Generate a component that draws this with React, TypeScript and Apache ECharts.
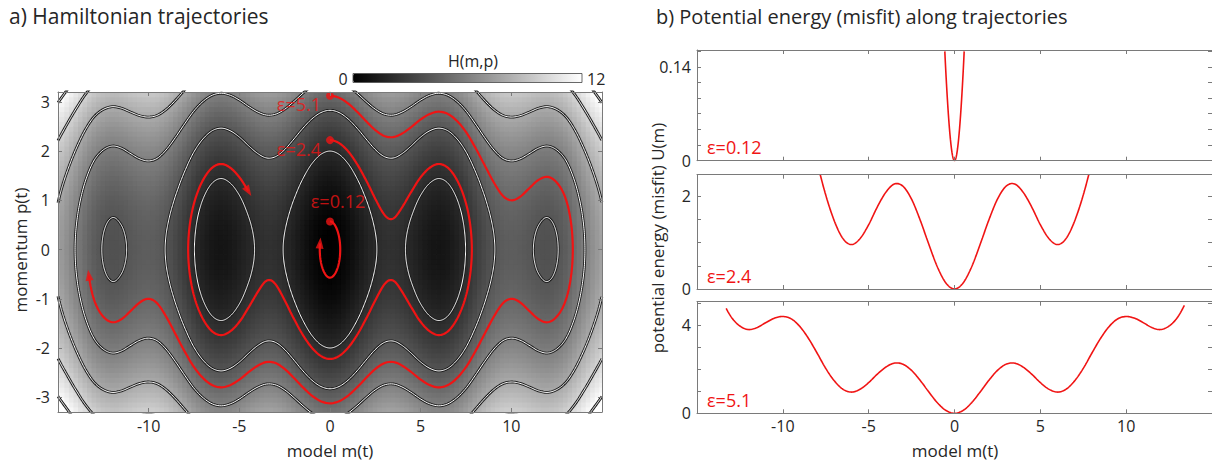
import { useEffect, useRef } from 'react';
import * as echarts from 'echarts';

const FONT = "'Open Sans', 'DejaVu Sans', sans-serif";
const RED = '#f01414';
const AXIS_COLOR = '#7a7a7a';
const TEXT_COLOR = '#262626';

// Potential U(m) at m = 0, 0.5, ..., 15 (U is symmetric: U(-m) = U(m))
const U_STEP = 0.5;
const U_TABLE = [
  0, 0.13, 0.48, 0.97, 1.49, 1.94, 2.22, 2.27, 2.09, 1.77, 1.39, 1.09, 0.96, 1.09, 1.47, 2.03,
  2.72, 3.38, 3.92, 4.27, 4.38, 4.3, 4.1, 3.88, 3.79, 3.95, 4.35, 5.05, 5.9, 6.75, 7.55,
];

// Trajectories: total energy H, label, where each one stops
const TRAJ_ENERGY = [0.163, 2.47, 4.88];
const TRAJ_LABEL = ['ε=0.12', 'ε=2.4', 'ε=5.1'];
const TRAJ_END_BRANCH = [1, 1, -1];
const TRAJ_END_M = [-0.548, -4.5, -13.3];

const CONTOUR_LEVELS = [2, 4, 6, 8, 10, 12];
const M_MIN = -15;
const M_MAX = 15;
const P_MIN = -3.3;
const P_MAX = 3.2;
const H_MIN = 0;
const H_MAX = 12;
const CELL_DM = 0.25;
const CELL_DP = 0.1;

const LEFT_X_TICKS = [-10, -5, 0, 5, 10];
const LEFT_Y_TICKS = [-3, -2, -1, 0, 1, 2, 3];
const RIGHT_X_TICKS = [-10, -5, 0, 5, 10];
const RIGHT_Y_MAX = [0.165, 2.47, 5.05];
const RIGHT_Y_TICKS = [
  [0, 0.02333, 0.04667, 0.07, 0.09333, 0.11667, 0.14, 0.16333],
  [0, 0.5, 1, 1.5, 2],
  [0, 1, 2, 3, 4, 5],
];
const RIGHT_Y_LABELS = [
  [0, 0.14],
  [0, 2],
  [0, 4],
];

// layout
const LG = { left: 58, top: 92, width: 544, height: 320 };
const RG = [
  { left: 697, top: 50, width: 517, height: 110.7 },
  { left: 697, top: 174.7, width: 517, height: 114.3 },
  { left: 697, top: 301.7, width: 517, height: 111.6 },
];

function uAt(m: number): number {
  const n = U_TABLE.length - 1;
  const get = (k: number) =>
    k < 0 ? U_TABLE[-k] : k > n ? 2 * U_TABLE[n] - U_TABLE[2 * n - k] : U_TABLE[k];
  const x = Math.abs(m) / U_STEP;
  let i = Math.floor(x);
  if (i >= n) i = n - 1;
  const t = x - i;
  const p0 = get(i - 1), p1 = get(i), p2 = get(i + 1), p3 = get(i + 2);
  return 0.5 * (2 * p1 + (-p0 + p2) * t + (2 * p0 - 5 * p1 + 4 * p2 - p3) * t * t + (-p0 + 3 * p1 - 3 * p2 + p3) * t * t * t);
}

function bisect(L: number, a: number, b: number): number {
  let fa = uAt(a) - L;
  for (let k = 0; k < 50; k++) {
    const c = (a + b) / 2;
    const fc = uAt(c) - L;
    if ((fc < 0) === (fa < 0)) { a = c; fa = fc; } else { b = c; }
  }
  return (a + b) / 2;
}

function turning(H: number): number {
  let m = 0;
  while (uAt(m + 0.01) < H && m < M_MAX) m += 0.01;
  return bisect(H, m, m + 0.01);
}

function branch(H: number, a: number, b: number, sign: number, n = 300): number[][] {
  const pts: number[][] = [];
  for (let k = 0; k <= n; k++) {
    const w = (1 - Math.cos((Math.PI * k) / n)) / 2;
    const m = a + (b - a) * w;
    const d = H - uAt(m);
    pts.push([m, sign * Math.sqrt(Math.max(0, 2 * d))]);
  }
  return pts;
}

function contourLines(L: number): number[][][] {
  const step = 0.01;
  const intervals: { a: number; b: number; aEdge: boolean; bEdge: boolean }[] = [];
  let inside = uAt(M_MIN) < L;
  let start = M_MIN;
  let startEdge = true;
  const N = Math.round((M_MAX - M_MIN) / step);
  for (let k = 1; k <= N; k++) {
    const m = M_MIN + k * step;
    const now = uAt(m) < L;
    if (now !== inside) {
      const r = bisect(L, m - step, m);
      if (now) { start = r; startEdge = false; }
      else intervals.push({ a: start, b: r, aEdge: startEdge, bEdge: false });
      inside = now;
    }
  }
  if (inside) intervals.push({ a: start, b: M_MAX, aEdge: startEdge, bEdge: true });
  const lines: number[][][] = [];
  intervals.forEach(({ a, b, aEdge, bEdge }) => {
    if (aEdge && bEdge) {
      lines.push(branch(L, a, b, 1, 500));
      lines.push(branch(L, a, b, -1, 500));
    } else if (bEdge) {
      lines.push(branch(L, b, a, -1, 400).concat(branch(L, a, b, 1, 400)));
    } else {
      lines.push(branch(L, a, b, 1, 400).concat(branch(L, b, a, -1, 400)));
    }
  });
  return lines;
}

function trajectory(k: number) {
  const H = TRAJ_ENERGY[k];
  const mR = turning(H);
  const mL = -mR;
  const endM = TRAJ_END_M[k];
  let pts = branch(H, 0, mR, 1);
  if (TRAJ_END_BRANCH[k] === -1) pts = pts.concat(branch(H, mR, endM, -1));
  else pts = pts.concat(branch(H, mR, mL, -1), branch(H, mL, endM, 1));
  const uMin = TRAJ_END_BRANCH[k] === -1 ? endM : mL;
  const uPts: number[][] = [];
  const n = 500;
  for (let i = 0; i <= n; i++) {
    const m = uMin + ((mR - uMin) * i) / n;
    uPts.push([m, uAt(m)]);
  }
  return { pts, uPts, p0: Math.sqrt(2 * H) };
}

function mkAxis(gridIndex: number, position: string, min: number, max: number, ticks: number[], labels: number[], showLabel: boolean, margin: number, z: number) {
  return {
    type: 'value',
    gridIndex,
    position,
    min,
    max,
    z,
    axisLine: { show: true, onZero: false, lineStyle: { color: AXIS_COLOR, width: 1 } },
    axisTick: { show: true, inside: true, length: 4, customValues: ticks, lineStyle: { color: AXIS_COLOR, width: 1 } },
    axisLabel: {
      show: showLabel,
      customValues: labels,
      margin,
      color: TEXT_COLOR,
      fontSize: 16,
      fontFamily: FONT,
      lineHeight: 18,
      showMinLabel: true,
      showMaxLabel: true,
    },
    splitLine: { show: false },
    splitArea: { show: false },
  } as any;
}

function buildOption() {
  const grids = [LG, ...RG].map((g) => ({ ...g, containLabel: false, show: false }));
  const xAxis: any[] = [];
  const yAxis: any[] = [];
  xAxis.push(mkAxis(0, 'bottom', M_MIN, M_MAX, LEFT_X_TICKS, LEFT_X_TICKS, true, 5, 10));
  xAxis.push(mkAxis(0, 'top', M_MIN, M_MAX, LEFT_X_TICKS, LEFT_X_TICKS, false, 5, 10));
  yAxis.push(mkAxis(0, 'left', P_MIN, P_MAX, LEFT_Y_TICKS, LEFT_Y_TICKS, true, 8, 10));
  yAxis.push(mkAxis(0, 'right', P_MIN, P_MAX, LEFT_Y_TICKS, LEFT_Y_TICKS, false, 8, 10));
  for (let i = 0; i < 3; i++) {
    xAxis.push(mkAxis(i + 1, 'bottom', M_MIN, M_MAX, RIGHT_X_TICKS, RIGHT_X_TICKS, i === 2, 4, 10));
    xAxis.push(mkAxis(i + 1, 'top', M_MIN, M_MAX, RIGHT_X_TICKS, RIGHT_X_TICKS, false, 4, 10));
    yAxis.push(mkAxis(i + 1, 'left', 0, RIGHT_Y_MAX[i], RIGHT_Y_TICKS[i], RIGHT_Y_LABELS[i], true, 6, 10));
    yAxis.push(mkAxis(i + 1, 'right', 0, RIGHT_Y_MAX[i], RIGHT_Y_TICKS[i], RIGHT_Y_LABELS[i], false, 6, 10));
  }

  const cells: number[][] = [];
  const nm = Math.round((M_MAX - M_MIN) / CELL_DM);
  const np = Math.round((P_MAX - P_MIN) / CELL_DP);
  for (let i = 0; i <= nm; i++) {
    const m = M_MIN + i * CELL_DM;
    const u = uAt(m);
    for (let j = 0; j < np; j++) {
      const p = P_MIN + CELL_DP / 2 + j * CELL_DP;
      cells.push([m, p, Math.min(H_MAX, Math.max(H_MIN, u + (p * p) / 2))]);
    }
  }

  const series: any[] = [];
  series.push({
    type: 'custom',
    xAxisIndex: 0,
    yAxisIndex: 0,
    data: cells,
    dimensions: ['m', 'p', 'H'],
    encode: { x: 0, y: 1 },
    silent: true,
    z: 1,
    progressive: 0,
    renderItem: (params: any, api: any) => {
      const m = api.value(0);
      const p = api.value(1);
      const c1 = api.coord([m - CELL_DM / 2, p + CELL_DP / 2]);
      const c2 = api.coord([m + CELL_DM / 2, p - CELL_DP / 2]);
      const cs = params.coordSys;
      const x0 = Math.max(cs.x, c1[0] - 0.4);
      const x1 = Math.min(cs.x + cs.width, c2[0] + 0.4);
      const y0 = Math.max(cs.y, c1[1] - 0.4);
      const y1 = Math.min(cs.y + cs.height, c2[1] + 0.4);
      if (x1 <= x0 || y1 <= y0) return null;
      return {
        type: 'rect',
        shape: { x: x0, y: y0, width: x1 - x0, height: y1 - y0 },
        style: { fill: api.visual('color') },
      };
    },
  });

  CONTOUR_LEVELS.forEach((L) => {
    contourLines(L).forEach((line) => {
      series.push({
        type: 'line', xAxisIndex: 0, yAxisIndex: 0, data: line, showSymbol: false, silent: true, z: 3,
        lineStyle: { color: '#1e1e1e', width: 2.8 }, clip: true,
      });
      series.push({
        type: 'line', xAxisIndex: 0, yAxisIndex: 0, data: line, showSymbol: false, silent: true, z: 4,
        lineStyle: { color: '#ffffff', width: 1 }, clip: true,
      });
    });
  });

  const SX = LG.width / (M_MAX - M_MIN);
  const SY = LG.height / (P_MAX - P_MIN);
  const labelCfg = [
    { position: 'top', offset: [8, -2] },
    { position: 'left', offset: [0, 9] },
    { position: 'left', offset: [0, 8] },
  ];
  for (let k = 0; k < 3; k++) {
    const { pts, uPts, p0 } = trajectory(k);
    series.push({
      type: 'line', xAxisIndex: 0, yAxisIndex: 0, data: pts, showSymbol: false, silent: true, z: 5,
      lineStyle: { color: RED, width: 2.2 }, clip: true,
    });
    const a = pts[pts.length - 6];
    const b = pts[pts.length - 1];
    const ang = (Math.atan2((b[1] - a[1]) * SY, (b[0] - a[0]) * SX) * 180) / Math.PI;
    series.push({
      type: 'scatter', xAxisIndex: 0, yAxisIndex: 0, silent: true, z: 6,
      symbol: 'triangle', symbolSize: [8, 11], symbolRotate: ang - 90,
      itemStyle: { color: RED }, data: [b],
    });
    series.push({
      type: 'scatter', xAxisIndex: 0, yAxisIndex: 0, silent: true, z: 6,
      symbol: 'circle', symbolSize: 8, itemStyle: { color: RED },
      data: [[0, p0]],
      label: {
        show: true, formatter: TRAJ_LABEL[k], color: RED, fontSize: 18, fontFamily: FONT,
        position: labelCfg[k].position, offset: labelCfg[k].offset, distance: 5,
      },
    });
    series.push({
      type: 'line', xAxisIndex: 2 + 2 * k, yAxisIndex: 2 + 2 * k, data: uPts, showSymbol: false, silent: true,
      z: 5, lineStyle: { color: RED, width: 1.6 }, clip: true,
    });
  }

  const txt = (text: string, x: number, y: number, size: number, extra: any = {}) => ({
    type: 'text', x, y, z: 100, silent: true, ...extra,
    style: {
      text, fontSize: size, fontFamily: FONT, fill: extra.fill || TEXT_COLOR,
      align: extra.align || 'left', verticalAlign: 'middle',
      textAlign: extra.align || 'left', textVerticalAlign: 'middle',
    },
  });

  const graphic: any[] = [
    txt('a) Hamiltonian trajectories', 9, 16, 21),
    txt('b) Potential energy (misfit) along trajectories', 656, 16, 20),
    txt('H(m,p)', 473, 61, 16, { align: 'center' }),
    txt('0', 343, 79, 16, { align: 'center' }),
    txt('12', 587, 79, 16),
    txt('model m(t)', 330, 450, 17, { align: 'center' }),
    txt('model m(t)', 955, 450, 17, { align: 'center' }),
    txt('momentum p(t)', 20, 250, 17, { align: 'center', rotation: Math.PI / 2 }),
    txt('potential energy (misfit) U(m)', 657, 238, 17, { align: 'center', rotation: Math.PI / 2 }),
    txt(TRAJ_LABEL[0], 707, 147, 18, { fill: RED }),
    txt(TRAJ_LABEL[1], 707, 276, 18, { fill: RED }),
    txt(TRAJ_LABEL[2], 707, 400, 18, { fill: RED }),
    {
      type: 'rect', z: 100, silent: true,
      shape: { x: 353, y: 73.5, width: 229, height: 9 },
      style: { fill: 'none', stroke: '#444', lineWidth: 0.8 },
    },
  ];

  return {
    animation: false,
    backgroundColor: '#ffffff',
    textStyle: { fontFamily: FONT },
    grid: grids,
    xAxis,
    yAxis,
    visualMap: {
      type: 'continuous',
      seriesIndex: 0,
      dimension: 2,
      min: H_MIN,
      max: H_MAX,
      orient: 'horizontal',
      left: 353,
      top: 73.5,
      itemWidth: 9,
      itemHeight: 229,
      padding: 0,
      calculable: false,
      hoverLink: false,
      inRange: { color: ['#000000', '#ffffff'] },
    },
    graphic,
    series,
  };
}

export default function App() {
  const ref = useRef<HTMLDivElement>(null);
  useEffect(() => {
    if (!ref.current) return;
    const chart = echarts.init(ref.current, null, { renderer: 'svg' });
    chart.setOption(buildOption() as any);
    return () => chart.dispose();
  }, []);
  return (
    <div
      ref={ref}
      style={{ position: 'fixed', left: 0, top: 0, width: 1212, height: 465, background: '#fff' }}
    />
  );
}
